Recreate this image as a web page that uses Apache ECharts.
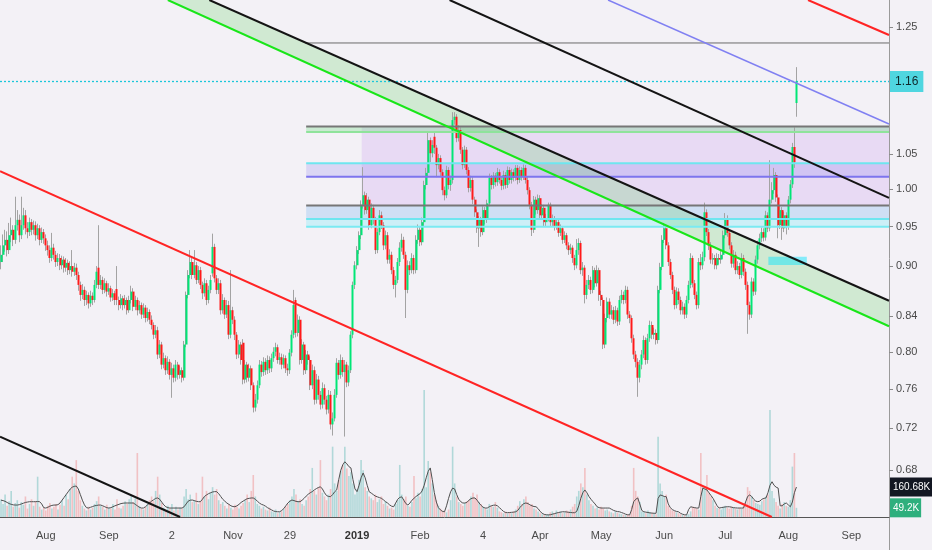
<!DOCTYPE html>
<html><head><meta charset="utf-8">
<script src="https://cdn.jsdelivr.net/npm/echarts/dist/echarts.min.js"></script>
<style>html,body{margin:0;padding:0;background:#f3f1f6}#c{width:932px;height:550px}</style>
</head><body><div id="c"></div><script>
// ---------------- data ----------------
const startDate = '2018-07-10';
const dayCount = 437;
const tickDates = ['2018-08-01','2018-09-01','2018-10-02','2018-11-01','2018-11-29','2019-01-01','2019-02-01','2019-03-04','2019-04-01','2019-05-01','2019-06-01','2019-07-01','2019-08-01','2019-09-01'];
const tickTexts = ['Aug','Sep','2','Nov','29','2019','Feb','4','Apr','May','Jun','Jul','Aug','Sep'];
const priceTicks = [1.25,1.05,1.00,0.95,0.90,0.84,0.80,0.76,0.72,0.68];
const priceMin = 0.6375, priceMax = 1.2973;
const lastPrice = 1.16;
const lastVolumeMA = 160.68;
const lastVolume = 49.2;

const opens = [0.905,0.914,0.926,0.933,0.920,0.939,0.946,0.933,0.952,0.959,
0.939,0.952,0.965,0.948,0.943,0.956,0.946,0.952,0.939,0.948,
0.933,0.943,0.935,0.926,0.920,0.910,0.923,0.914,0.905,0.910,
0.901,0.908,0.898,0.904,0.895,0.900,0.893,0.898,0.889,0.877,
0.865,0.871,0.859,0.865,0.855,0.864,0.859,0.877,0.898,0.877,
0.883,0.871,0.879,0.869,0.873,0.862,0.867,0.872,0.859,0.853,
0.861,0.853,0.859,0.847,0.859,0.869,0.851,0.859,0.847,0.853,
0.842,0.850,0.838,0.845,0.836,0.830,0.819,0.824,0.797,0.808,
0.786,0.793,0.780,0.789,0.775,0.782,0.772,0.786,0.775,0.780,
0.772,0.808,0.865,0.889,0.905,0.889,0.901,0.883,0.895,0.877,
0.867,0.879,0.859,0.871,0.891,0.924,0.885,0.871,0.879,0.847,
0.859,0.842,0.853,0.819,0.847,0.836,0.819,0.797,0.808,0.810,
0.770,0.786,0.772,0.782,0.764,0.741,0.749,0.764,0.786,0.778,
0.789,0.780,0.791,0.782,0.793,0.800,0.805,0.791,0.794,0.786,
0.793,0.782,0.780,0.799,0.819,0.859,0.821,0.836,0.791,0.808,
0.780,0.797,0.791,0.764,0.780,0.749,0.770,0.754,0.744,0.761,
0.749,0.739,0.754,0.724,0.730,0.754,0.788,0.775,0.791,0.778,
0.786,0.767,0.780,0.819,0.877,0.901,0.920,0.939,0.979,0.992,
0.972,0.986,0.952,0.975,0.959,0.920,0.943,0.965,0.952,0.926,
0.939,0.908,0.914,0.895,0.877,0.883,0.905,0.923,0.933,0.914,
0.871,0.901,0.895,0.910,0.895,0.933,0.946,0.930,0.956,1.006,
1.023,1.070,1.051,1.075,1.059,1.034,1.044,1.024,0.999,0.992,
1.027,1.006,1.013,1.100,1.105,1.073,1.085,1.056,1.034,1.056,
1.027,1.002,1.013,0.986,0.969,0.948,0.959,0.943,0.972,0.959,
0.981,1.016,1.006,1.019,1.010,1.024,1.013,1.005,1.020,1.006,
1.027,1.013,1.024,1.016,1.030,1.013,1.027,1.017,1.030,1.013,
0.999,0.979,0.946,0.986,0.972,0.988,0.965,0.975,0.956,0.961,
0.979,0.956,0.961,0.950,0.956,0.942,0.948,0.933,0.939,0.926,
0.920,0.923,0.910,0.901,0.920,0.929,0.895,0.898,0.865,0.877,
0.883,0.871,0.895,0.879,0.895,0.865,0.859,0.808,0.838,0.857,
0.842,0.847,0.836,0.847,0.834,0.859,0.865,0.859,0.871,0.842,
0.838,0.815,0.797,0.789,0.772,0.786,0.797,0.813,0.791,0.815,
0.830,0.819,0.821,0.813,0.871,0.899,0.933,0.948,0.926,0.905,
0.889,0.871,0.853,0.869,0.859,0.847,0.851,0.842,0.859,0.877,
0.910,0.879,0.865,0.853,0.905,0.901,0.911,0.969,0.943,0.926,
0.908,0.910,0.901,0.910,0.908,0.914,0.939,0.961,0.942,0.926,
0.903,0.914,0.895,0.900,0.889,0.910,0.893,0.877,0.853,0.842,
0.881,0.869,0.908,0.926,0.935,0.943,0.936,0.965,0.948,0.986,
0.999,1.020,0.989,0.952,0.972,0.948,0.965,0.951,0.986,1.007,
1.060,1.126];

const closes = [0.914,0.926,0.933,0.920,0.939,0.946,0.933,0.952,0.959,0.939,
0.952,0.965,0.948,0.943,0.956,0.946,0.952,0.939,0.948,0.933,
0.943,0.935,0.926,0.920,0.910,0.923,0.914,0.905,0.910,0.901,
0.908,0.898,0.904,0.895,0.900,0.893,0.898,0.889,0.877,0.865,
0.871,0.859,0.865,0.855,0.864,0.859,0.877,0.893,0.877,0.883,
0.871,0.879,0.869,0.873,0.862,0.867,0.859,0.859,0.853,0.861,
0.853,0.859,0.847,0.859,0.869,0.851,0.859,0.847,0.853,0.842,
0.850,0.838,0.845,0.836,0.830,0.819,0.824,0.797,0.808,0.786,
0.793,0.780,0.789,0.775,0.782,0.772,0.786,0.775,0.780,0.772,
0.808,0.865,0.889,0.905,0.889,0.901,0.883,0.895,0.877,0.867,
0.879,0.859,0.871,0.883,0.924,0.885,0.871,0.879,0.847,0.859,
0.842,0.853,0.819,0.847,0.836,0.819,0.797,0.808,0.791,0.770,
0.786,0.772,0.782,0.764,0.741,0.749,0.764,0.786,0.778,0.789,
0.780,0.791,0.782,0.793,0.800,0.805,0.791,0.794,0.786,0.793,
0.782,0.780,0.799,0.819,0.853,0.821,0.836,0.791,0.808,0.780,
0.797,0.791,0.764,0.780,0.749,0.770,0.754,0.744,0.761,0.749,
0.739,0.754,0.724,0.730,0.754,0.788,0.775,0.791,0.778,0.786,
0.767,0.780,0.819,0.877,0.901,0.920,0.939,0.979,0.992,0.972,
0.986,0.952,0.975,0.959,0.920,0.943,0.965,0.952,0.926,0.939,
0.908,0.914,0.895,0.877,0.883,0.905,0.923,0.933,0.914,0.871,
0.901,0.895,0.910,0.895,0.933,0.946,0.930,0.956,1.006,1.023,
1.070,1.051,1.063,1.059,1.034,1.044,1.024,0.999,0.992,1.027,
1.006,1.013,1.100,1.105,1.073,1.085,1.056,1.034,1.056,1.027,
1.002,1.013,0.986,0.969,0.948,0.959,0.943,0.972,0.959,0.981,
1.016,1.006,1.019,1.010,1.024,1.013,1.005,1.020,1.006,1.027,
1.013,1.024,1.016,1.030,1.013,1.027,1.017,1.030,1.013,0.999,
0.979,0.946,0.986,0.972,0.988,0.965,0.975,0.956,0.961,0.979,
0.956,0.961,0.950,0.956,0.942,0.948,0.933,0.939,0.926,0.920,
0.923,0.910,0.901,0.920,0.929,0.895,0.898,0.865,0.877,0.883,
0.871,0.895,0.879,0.895,0.865,0.859,0.808,0.838,0.857,0.842,
0.847,0.836,0.847,0.834,0.859,0.865,0.859,0.871,0.842,0.838,
0.815,0.797,0.789,0.772,0.786,0.797,0.813,0.791,0.815,0.830,
0.819,0.821,0.813,0.871,0.899,0.933,0.948,0.926,0.905,0.889,
0.871,0.853,0.869,0.859,0.847,0.851,0.842,0.859,0.877,0.910,
0.879,0.865,0.853,0.905,0.901,0.911,0.969,0.943,0.926,0.908,
0.910,0.901,0.910,0.908,0.914,0.939,0.961,0.942,0.926,0.903,
0.914,0.895,0.900,0.889,0.910,0.893,0.877,0.853,0.842,0.881,
0.869,0.908,0.926,0.935,0.943,0.936,0.965,0.948,0.986,0.999,
1.020,0.989,0.952,0.972,0.948,0.965,0.951,0.986,1.007,1.060,
1.038,1.160];

const highs = [0.926,0.940,0.946,0.944,0.955,0.962,0.952,0.990,0.972,0.966,
0.990,0.975,0.972,0.956,0.962,0.960,0.958,0.957,0.954,0.952,
0.949,0.947,0.940,0.932,0.926,0.942,0.928,0.919,0.916,0.915,
0.913,0.912,0.910,0.908,0.906,0.920,0.904,0.903,0.893,0.881,
0.878,0.875,0.870,0.868,0.870,0.868,0.883,0.900,0.952,0.889,
0.887,0.885,0.882,0.879,0.876,0.872,0.870,0.900,0.863,0.866,
0.864,0.865,0.862,0.864,0.876,0.873,0.864,0.862,0.858,0.856,
0.855,0.853,0.850,0.848,0.841,0.833,0.830,0.828,0.813,0.811,
0.799,0.796,0.795,0.792,0.788,0.786,0.791,0.789,0.785,0.783,
0.812,0.869,0.895,0.920,0.910,0.920,0.905,0.900,0.899,0.881,
0.885,0.883,0.876,0.889,0.941,0.928,0.889,0.885,0.883,0.866,
0.862,0.859,0.858,0.895,0.851,0.840,0.822,0.813,0.811,0.814,
0.791,0.789,0.787,0.785,0.767,0.755,0.769,0.791,0.790,0.794,
0.793,0.796,0.795,0.798,0.805,0.810,0.808,0.799,0.798,0.797,
0.796,0.787,0.803,0.824,0.871,0.862,0.842,0.840,0.814,0.811,
0.802,0.801,0.795,0.786,0.784,0.776,0.774,0.758,0.767,0.765,
0.753,0.759,0.758,0.736,0.760,0.793,0.791,0.797,0.794,0.791,
0.789,0.785,0.823,0.881,0.906,0.925,0.944,0.985,1.031,0.997,
0.995,0.990,0.981,0.979,0.963,0.948,0.972,0.970,0.956,0.945,
0.943,0.921,0.918,0.899,0.888,0.910,0.930,0.941,0.937,0.918,
0.907,0.906,0.916,0.914,0.939,0.953,0.951,0.962,1.012,1.030,
1.081,1.074,1.070,1.082,1.063,1.050,1.048,1.028,1.004,1.033,
1.031,1.019,1.112,1.112,1.109,1.092,1.089,1.060,1.062,1.060,
1.031,1.019,1.017,0.990,0.973,0.964,0.963,0.977,0.976,0.986,
1.022,1.020,1.024,1.023,1.030,1.028,1.017,1.026,1.024,1.032,
1.031,1.029,1.028,1.034,1.034,1.032,1.031,1.035,1.034,1.017,
1.003,0.983,0.991,0.990,0.993,0.992,0.980,0.979,0.967,0.982,
0.982,0.966,0.964,0.961,0.959,0.953,0.951,0.944,0.942,0.930,
0.928,0.926,0.914,0.934,0.935,0.932,0.905,0.901,0.883,0.889,
0.887,0.900,0.898,0.901,0.898,0.870,0.862,0.843,0.862,0.861,
0.853,0.851,0.852,0.850,0.864,0.871,0.869,0.876,0.875,0.846,
0.841,0.819,0.801,0.793,0.791,0.802,0.818,0.816,0.820,0.835,
0.834,0.827,0.825,0.876,0.904,0.939,0.955,0.951,0.930,0.909,
0.893,0.875,0.874,0.873,0.863,0.857,0.855,0.864,0.882,0.916,
0.913,0.883,0.869,0.910,0.915,0.918,0.982,0.973,0.947,0.930,
0.916,0.914,0.916,0.915,0.920,0.945,0.968,0.965,0.946,0.930,
0.920,0.918,0.906,0.904,0.916,0.914,0.897,0.881,0.857,0.886,
0.885,0.913,0.932,0.941,0.949,0.948,0.971,0.969,1.041,1.010,
1.030,1.024,0.993,0.978,0.976,0.970,0.969,0.991,1.013,1.066,
1.089,1.183];

const lows = [0.896,0.905,0.918,0.912,0.915,0.930,0.925,0.928,0.945,0.930,
0.934,0.946,0.940,0.935,0.938,0.939,0.940,0.932,0.934,0.926,
0.929,0.928,0.919,0.913,0.904,0.906,0.908,0.899,0.900,0.895,
0.896,0.892,0.893,0.889,0.890,0.887,0.888,0.883,0.870,0.858,
0.860,0.852,0.853,0.849,0.851,0.853,0.856,0.873,0.872,0.872,
0.866,0.867,0.863,0.865,0.857,0.858,0.853,0.853,0.847,0.849,
0.847,0.849,0.842,0.844,0.855,0.846,0.847,0.841,0.843,0.837,
0.838,0.833,0.834,0.831,0.825,0.814,0.815,0.792,0.793,0.781,
0.782,0.775,0.776,0.770,0.751,0.767,0.768,0.770,0.771,0.767,
0.769,0.805,0.861,0.885,0.884,0.885,0.878,0.879,0.872,0.860,
0.863,0.853,0.855,0.867,0.887,0.880,0.866,0.866,0.842,0.843,
0.837,0.838,0.814,0.815,0.831,0.813,0.792,0.793,0.786,0.765,
0.766,0.767,0.768,0.759,0.736,0.737,0.745,0.761,0.773,0.774,
0.775,0.776,0.777,0.778,0.789,0.795,0.787,0.786,0.781,0.782,
0.777,0.774,0.776,0.795,0.815,0.816,0.817,0.786,0.787,0.775,
0.776,0.786,0.759,0.760,0.744,0.745,0.749,0.739,0.740,0.744,
0.734,0.735,0.719,0.713,0.727,0.751,0.770,0.771,0.773,0.712,
0.762,0.763,0.777,0.815,0.872,0.896,0.915,0.934,0.974,0.966,
0.967,0.946,0.948,0.953,0.915,0.916,0.939,0.947,0.920,0.921,
0.903,0.903,0.890,0.872,0.862,0.879,0.900,0.918,0.909,0.838,
0.867,0.889,0.891,0.890,0.891,0.928,0.925,0.926,0.951,1.000,
1.018,1.038,1.045,1.050,1.017,1.028,1.017,0.992,0.985,0.988,
1.000,0.998,1.008,1.093,1.067,1.068,1.050,1.028,1.030,1.021,
0.996,0.997,0.980,0.963,0.942,0.924,0.937,0.939,0.953,0.955,
0.977,1.000,1.001,1.004,1.005,1.008,0.999,1.000,1.001,1.002,
1.008,1.008,1.011,1.012,1.007,1.009,1.012,1.013,1.008,0.993,
0.973,0.938,0.942,0.966,0.967,0.959,0.960,0.951,0.951,0.957,
0.951,0.951,0.945,0.946,0.937,0.938,0.928,0.929,0.921,0.914,
0.915,0.904,0.895,0.897,0.914,0.890,0.888,0.855,0.860,0.872,
0.866,0.867,0.874,0.875,0.858,0.852,0.803,0.804,0.833,0.837,
0.837,0.831,0.832,0.829,0.830,0.855,0.854,0.855,0.837,0.832,
0.810,0.792,0.783,0.752,0.767,0.781,0.793,0.786,0.787,0.811,
0.814,0.814,0.808,0.809,0.867,0.895,0.929,0.921,0.900,0.884,
0.866,0.848,0.849,0.854,0.842,0.842,0.837,0.838,0.855,0.873,
0.874,0.860,0.848,0.849,0.895,0.896,0.906,0.938,0.920,0.903,
0.902,0.896,0.896,0.902,0.903,0.909,0.935,0.937,0.921,0.898,
0.898,0.890,0.890,0.884,0.885,0.888,0.871,0.820,0.836,0.838,
0.864,0.865,0.903,0.921,0.930,0.931,0.932,0.943,0.944,0.981,
0.994,0.983,0.935,0.947,0.933,0.943,0.940,0.946,0.981,1.002,
1.030,1.105];

const volumes = [95,70,120,60,85,140,55,75,90,50,
80,65,110,45,70,95,60,85,216,55,
40,50,35,60,75,45,55,70,40,65,
90,60,120,95,150,216,180,305,140,90,
60,45,35,55,40,50,70,85,110,60,
55,40,65,50,45,70,40,95,50,45,
60,85,70,95,120,80,100,343,60,45,
40,55,70,90,110,85,140,216,120,75,
50,40,60,45,70,35,55,40,50,45,
110,150,95,120,80,90,130,70,85,216,
110,140,95,130,160,120,150,90,70,80,
60,45,70,50,40,65,55,45,60,75,
90,120,80,140,225,110,70,60,45,55,
40,35,50,30,25,40,20,25,30,45,
55,70,90,110,150,120,80,95,70,60,
90,110,150,263,140,120,160,305,130,110,
90,120,150,377,180,140,200,250,280,377,
260,220,240,180,120,150,200,305,250,160,
140,110,100,90,120,80,95,110,70,85,
60,45,50,40,70,90,279,120,95,110,
60,55,80,220,100,130,110,150,681,160,
300,240,180,120,90,60,45,35,30,25,
40,90,377,180,110,80,70,60,75,85,
90,110,130,100,120,80,70,55,45,40,
70,60,55,80,50,30,25,20,30,18,
25,20,30,40,60,85,70,95,110,80,
60,70,45,40,30,20,15,12,10,15,
25,30,20,35,25,30,20,25,35,30,
40,55,70,110,140,180,160,263,120,90,
70,60,45,50,40,55,45,35,40,30,
25,20,30,22,18,15,12,10,14,12,
60,263,140,110,80,30,25,20,35,25,
20,18,15,430,180,140,110,120,60,45,
35,30,25,20,15,12,10,12,15,30,
55,50,45,40,343,160,150,225,130,110,
90,60,50,45,40,55,60,50,45,55,
50,45,40,50,45,60,80,160,140,110,
90,75,70,65,85,95,110,120,573,140,
100,80,60,45,70,80,60,55,90,270,
343,49.2];

const volumeMA = [90,88,84,78,72,68,65,64,64,66,
70,74,78,80,82,82,82,82,83,82,
70,50,48,52,58,62,64,64,66,75,
90,105,120,135,150,160,164,166,150,120,
90,65,50,48,52,56,60,62,64,64,
60,55,50,48,50,55,60,64,68,72,
74,75,75,75,75,75,68,60,52,48,
48,55,65,75,85,92,100,102,95,80,
65,55,50,48,48,48,48,48,48,48,
55,70,85,90,91,88,84,82,82,95,
110,118,125,130,134,136,136,125,110,95,
85,75,68,60,56,55,60,68,78,85,
92,98,100,102,102,95,85,75,68,64,
58,50,44,38,32,29,28,28,35,45,
60,75,85,91,88,84,82,82,90,100,
112,122,130,136,145,152,158,162,150,130,
115,110,109,120,135,145,200,250,280,296,
285,270,263,200,150,136,170,210,236,210,
170,135,128,120,112,108,104,100,92,82,
75,65,58,55,75,95,105,108,90,72,
64,75,90,100,110,118,125,140,170,210,
245,263,200,130,80,50,38,30,28,60,
100,135,155,150,120,95,82,75,75,78,
90,98,102,102,90,75,62,52,48,48,
55,60,63,64,60,50,40,30,24,23,
24,25,26,28,35,50,62,72,75,72,
65,60,56,55,45,30,20,14,12,11,
12,15,18,21,24,26,28,28,27,25,
24,23,23,30,60,100,130,145,130,110,
95,82,70,55,50,48,48,48,48,48,
42,36,32,29,28,24,20,15,12,11,
40,82,95,102,70,35,28,26,24,22,
21,20,20,100,118,115,110,109,70,50,
40,34,30,28,20,15,12,11,40,55,
52,50,48,48,110,155,150,145,130,115,
100,80,60,48,50,52,54,55,55,53,
50,49,48,48,48,48,80,110,118,110,
95,85,82,85,95,100,102,130,170,189,
170,160,155,60,60,70,75,65,55,80,
130,160.68];

// drawings: points are [day index from startDate, price]
const redLineTop    = [[396.7, 1.2973], [436.5, 1.2364]];
const redLineLong   = [[-0.5, 1.0253], [378.9, 0.6375]];
const blackLineLow  = [[-0.5, 0.7118], [88.0, 0.6375]];
const blackLineHigh = [[220.5, 1.2973], [436.5, 0.9885]];
const blueLine      = [[298.4, 1.2973], [436.5, 1.0940]];
const channelTop    = [[102.4, 1.2973], [436.5, 0.8581]];
const channelBottom = [[82.0, 1.2973], [436.5, 0.8286]];
// zones: [fromDay, toDay, lowPrice, highPrice]
const boxZone     = [177.3, 436.5, 0.9781, 1.0903];
const greenZone   = [150.0, 436.5, 1.0821, 1.0903];
const violetZone  = [150.0, 436.5, 1.0176, 1.0365];
const blueZone    = [150.0, 436.5, 0.9601, 0.9781];
const cyanZone    = [150.0, 436.5, 0.9500, 0.9601];
const smallZone   = [377.2, 396.1, 0.9013, 0.9117];
// horizontal levels: [fromDay, toDay, price]
const levelTop       = [149.4, 436.5, 1.2229];
const levelGrayHigh  = [150.0, 436.5, 1.0903];
const levelGreen     = [150.0, 436.5, 1.0821];
const levelCyanHigh  = [150.0, 436.5, 1.0365];
const levelBlue      = [150.0, 436.5, 1.0176];
const levelGrayLow   = [150.0, 436.5, 0.9781];
const levelCyanMid   = [150.0, 436.5, 0.9601];
const levelCyanLow   = [150.0, 436.5, 0.9500];

// ---------------- chart ----------------
const dates = [];
{
  const t0 = Date.parse(startDate + 'T00:00:00Z');
  for (let d = 0; d < dayCount; d++) dates.push(new Date(t0 + d * 86400000).toISOString().slice(0, 10));
}
const tickSet = new Set(tickDates);
const FONT = "'Liberation Sans', Arial, sans-serif";

const wickData = opens.map((o, i) => [o, closes[i], lows[i], highs[i]]);
const bodyData = opens.map((o, i) => [o, closes[i], Math.min(o, closes[i]), Math.max(o, closes[i])]);
const volData = volumes.map((v, i) => ({
  value: v,
  itemStyle: { color: closes[i] >= opens[i] ? 'rgba(38,166,154,0.32)' : 'rgba(239,83,80,0.30)' }
}));

function zoneSeries(zone, fill, z) {
  return {
    type: 'custom', xAxisIndex: 1, yAxisIndex: 0, z: z || 1, silent: true, clip: true,
    data: [[zone[0], zone[2]]],
    renderItem: function (params, api) {
      const a = api.coord([zone[0], zone[3]]);
      const b = api.coord([zone[1], zone[2]]);
      return { type: 'rect', shape: { x: a[0], y: a[1], width: b[0] - a[0], height: b[1] - a[1] },
               style: { fill: fill } };
    }
  };
}
function channelSeries(top, bottom, fill) {
  return {
    type: 'custom', xAxisIndex: 1, yAxisIndex: 0, z: 1, silent: true, clip: true,
    data: [top[0]],
    renderItem: function (params, api) {
      const pts = [bottom[0], top[0], top[1], bottom[1]].map(p => api.coord(p));
      return { type: 'polygon', shape: { points: pts }, style: { fill: fill } };
    }
  };
}
function lineSeries(pts, color, width, z) {
  return {
    type: 'line', xAxisIndex: 1, yAxisIndex: 0, data: pts, symbol: 'none', silent: true,
    animation: false, z: z || 6, lineStyle: { color: color, width: width }
  };
}
function levelSeries(lv, color, width, z) {
  return lineSeries([[lv[0], lv[2]], [lv[1], lv[2]]], color, width, z);
}

const option = {
  backgroundColor: '#f3f1f6',
  animation: false,
  textStyle: { fontFamily: FONT },
  grid: { left: 0, right: 43, top: 0, bottom: 33, containLabel: false },
  xAxis: [
    {
      type: 'category', data: dates, boundaryGap: true,
      axisLine: { onZero: false, lineStyle: { color: '#555', width: 1 } },
      axisTick: { interval: (i, v) => tickSet.has(v), alignWithLabel: true, length: 4, lineStyle: { color: '#777' } },
      axisLabel: {
        interval: (i, v) => tickSet.has(v), margin: 13, color: '#4a4a4a', fontSize: 11, fontFamily: FONT,
        formatter: v => { const t = tickTexts[tickDates.indexOf(v)]; return t === '2019' ? '{b|2019}' : t; },
        rich: { b: { fontWeight: 'bold', color: '#333', fontSize: 11, fontFamily: FONT } }
      },
      splitLine: { show: false }
    },
    { type: 'value', min: -0.5, max: dayCount - 0.5, show: false }
  ],
  yAxis: [
    {
      type: 'log', position: 'right', min: priceMin, max: priceMax,
      axisLine: { show: true, onZero: false, lineStyle: { color: '#9a9a9a', width: 1 } },
      axisTick: { show: true, customValues: priceTicks, length: 4, lineStyle: { color: '#8a8a8a' } },
      axisLabel: { customValues: priceTicks, formatter: v => Number(v).toFixed(2), color: '#4a4a4a', fontSize: 11, margin: 7, fontFamily: FONT },
      splitLine: { show: false }
    },
    { type: 'value', min: 0, max: 2771, show: false, axisLine: { onZero: false }, splitLine: { show: false } }
  ],
  graphic: [
    { type: 'line', shape: { x1: 889.5, y1: 517, x2: 889.5, y2: 550 }, style: { stroke: '#9a9a9a', lineWidth: 1 }, silent: true }
  ],
  series: [
    // fills
    zoneSeries(boxZone, 'rgba(200,150,240,0.25)'),
    zoneSeries(greenZone, 'rgba(76,217,100,0.25)'),
    zoneSeries(violetZone, 'rgba(120,110,240,0.20)'),
    zoneSeries(blueZone, 'rgba(100,170,240,0.25)'),
    zoneSeries(cyanZone, 'rgba(0,230,255,0.16)'),
    channelSeries(channelTop, channelBottom, 'rgba(60,200,60,0.19)'),
    // volume
    {
      type: 'bar', xAxisIndex: 0, yAxisIndex: 1, data: volData, barWidth: 1.6, silent: true, z: 2
    },
    {
      type: 'line', xAxisIndex: 0, yAxisIndex: 1, data: volumeMA, symbol: 'none', silent: true, z: 3,
      lineStyle: { color: '#4f4f4f', width: 1 },
      markLine: {
        silent: true, symbol: ['none', 'none'], animation: false,
        lineStyle: { color: 'rgba(0,0,0,0)', width: 1 },
        data: [
          { yAxis: lastVolumeMA, label: { formatter: lastVolumeMA.toFixed(2) + 'K', backgroundColor: '#131722', color: '#ffffff' } },
          { yAxis: lastVolume, label: { formatter: lastVolume + 'K', backgroundColor: '#2eaf7d', color: '#ffffff' } }
        ],
        label: { show: true, position: 'end', distance: 1, fontSize: 10, padding: [5, 2, 4, 3], fontFamily: FONT }
      }
    },
    // candles: wicks then bodies
    {
      type: 'candlestick', xAxisIndex: 0, yAxisIndex: 0, data: wickData, barWidth: 1, silent: true, z: 4,
      itemStyle: { color: '#a3a3a3', color0: '#a3a3a3', borderColor: '#a3a3a3', borderColor0: '#a3a3a3', borderWidth: 1 }
    },
    {
      type: 'candlestick', xAxisIndex: 0, yAxisIndex: 0, data: bodyData, barWidth: 2.5, silent: true, z: 5,
      itemStyle: { color: '#00e676', color0: '#ff1a1a', borderColor: '#00e676', borderColor0: '#ff1a1a', borderWidth: 0 },
      markLine: {
        silent: true, symbol: ['none', 'none'], animation: false,
        data: [{ yAxis: lastPrice }],
        lineStyle: { color: '#1cc6da', type: [2, 2], width: 1.3 },
        label: { show: true, position: 'end', distance: 1, formatter: lastPrice.toFixed(2),
                 backgroundColor: '#4fd6e0', color: '#10282b', fontSize: 12, padding: [5, 5, 4, 5], fontFamily: FONT }
      }
    },
    // zone border lines
    levelSeries(levelTop, '#6b6b6b', 1),
    levelSeries(levelGrayHigh, '#767676', 2),
    levelSeries(levelGreen, '#8fe39b', 2),
    levelSeries(levelCyanHigh, '#6ee6ef', 2),
    levelSeries(levelBlue, '#7d74ee', 2),
    levelSeries(levelGrayLow, '#767676', 2),
    levelSeries(levelCyanMid, '#6ee6ef', 2),
    levelSeries(levelCyanLow, '#7aeaf2', 2),
    // small cyan box
    zoneSeries(smallZone, 'rgba(0,229,255,0.45)', 6),
    // trend lines
    lineSeries(redLineTop, '#ff2424', 2),
    lineSeries(redLineLong, '#ff2424', 2),
    lineSeries(blackLineLow, '#141414', 2),
    lineSeries(blackLineHigh, '#141414', 2),
    lineSeries(blueLine, '#8080f2', 1.5),
    lineSeries(channelTop, '#141414', 2),
    lineSeries(channelBottom, '#19e619', 2)
  ]
};
const chart = echarts.init(document.getElementById('c'));
chart.setOption(option);
</script></body></html>
